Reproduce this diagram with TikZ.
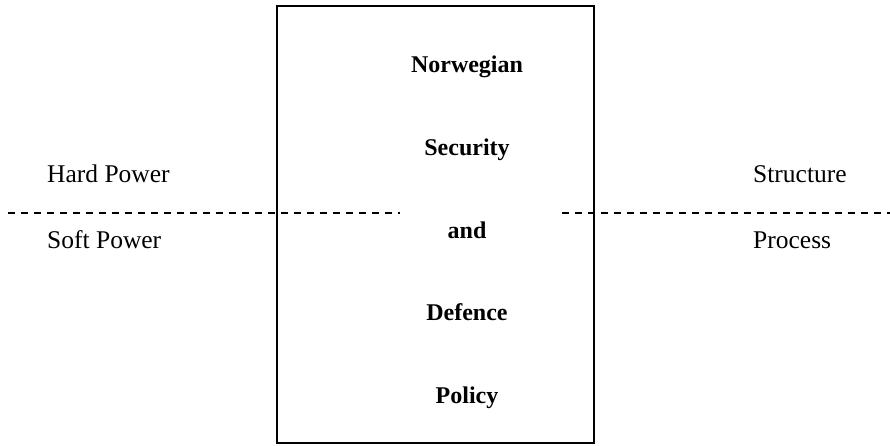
\documentclass[tikz,border=0pt]{standalone}
\usepackage{fontspec}
\setmainfont{Liberation Serif}
\begin{document}
\begin{tikzpicture}[x=1pt,y=-1pt,
  sidetext/.style={anchor=base west,inner sep=0pt,font=\fontsize{25.5}{30}\selectfont},
  midtext/.style={anchor=base,inner sep=0pt,font=\fontsize{24}{28}\selectfont\bfseries},
  divider/.style={line width=1.2pt,dash pattern=on 7pt off 6pt},
  frame/.style={draw,line width=2pt,inner sep=0pt}]
\useasboundingbox (0,0) rectangle (890,446);
\node[frame,minimum width=317pt,minimum height=437pt] (box) at (435.5,224.5) {};
\node[midtext] (t1) at (467,73) {Norwegian};
\node[midtext] (t2) at (467,156) {Security};
\node[midtext] (t3) at (467,238) {and};
\node[midtext] (t4) at (467,320) {Defence};
\node[midtext] (t5) at (467,403) {Policy};
\node[sidetext] (hard) at (47,183) {Hard Power};
\node[sidetext] (soft) at (47,248) {Soft Power};
\node[sidetext] (struct) at (753,183) {Structure};
\node[sidetext] (proc) at (753,248) {Process};
\coordinate (l1) at (8,213);
\coordinate (l2) at (400,213);
\coordinate (r1) at (562,213);
\coordinate (r2) at (890,213);
\draw[divider] (l1) -- (l2);
\draw[divider] (r1) -- (r2);
\end{tikzpicture}
\end{document}
